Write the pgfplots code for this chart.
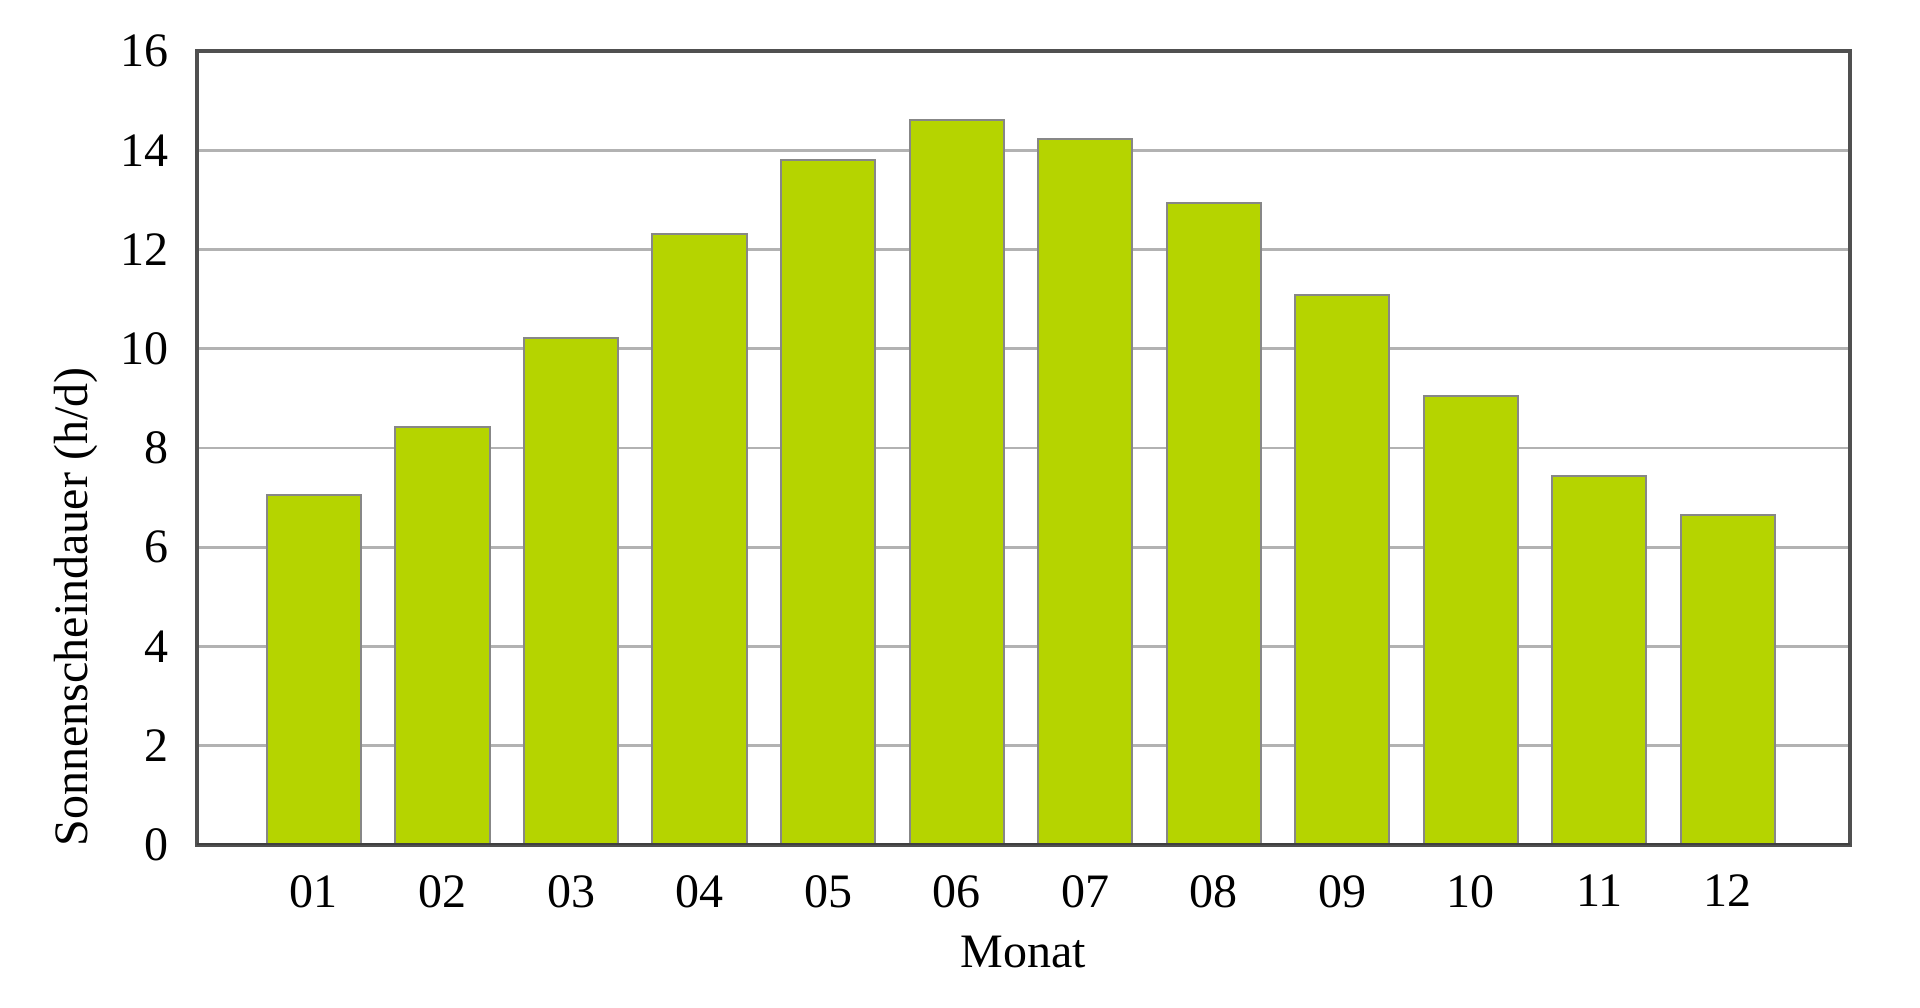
\documentclass[border=0pt]{standalone}
\usepackage{fontspec}
\setmainfont{Liberation Serif}
\usepackage{pgfplots}
\pgfplotsset{compat=1.18}
\definecolor{barfill}{RGB}{181,212,0}
\definecolor{baredge}{RGB}{135,135,135}
\definecolor{gridgray}{RGB}{178,178,178}
\definecolor{axisgray}{RGB}{80,80,80}

\begin{document}
\begin{tikzpicture}
\useasboundingbox (-49.25pt,-40.75pt) rectangle (430.75pt,211.25pt);
\begin{axis}[
  at={(0,0)}, anchor=south west,
  scale only axis,
  width=413.25pt, height=198.5pt,
  xmin=0.09, xmax=12.95,
  ymin=0, ymax=16,
  ytick={0,2,...,16},
  xtick={1,...,12},
  xticklabels={01,02,03,04,05,06,07,08,09,10,11,12},
  major tick length=0pt,
  ymajorgrids,
  grid style={gridgray, line width=0.7pt},
  axis line style={axisgray, line width=0.9pt},
  font=\fontsize{12}{14}\selectfont,
  /pgf/number format/assume math mode=true,
  yticklabel style={xshift=-3.5pt},
  xticklabel style={yshift=-4pt},
  xlabel={Monat},
  ylabel={Sonnenscheindauer (h/d)},
  xlabel style={at={(axis description cs:0.5,-0.135)}, anchor=center},
  ylabel style={at={(axis description cs:-0.0732,0.30)}, anchor=center},
]
\addplot[ybar, bar width=0.733, fill=barfill, draw=baredge, line width=0.5pt]
  coordinates {(1,7.06) (2,8.42) (3,10.22) (4,12.32) (5,13.8) (6,14.6)
               (7,14.22) (8,12.94) (9,11.09) (10,9.04) (11,7.43) (12,6.64)};
\draw[black!75, line width=1.1pt] (axis cs:0.09,0) -- (axis cs:12.95,0);
\end{axis}
\end{tikzpicture}
\end{document}
